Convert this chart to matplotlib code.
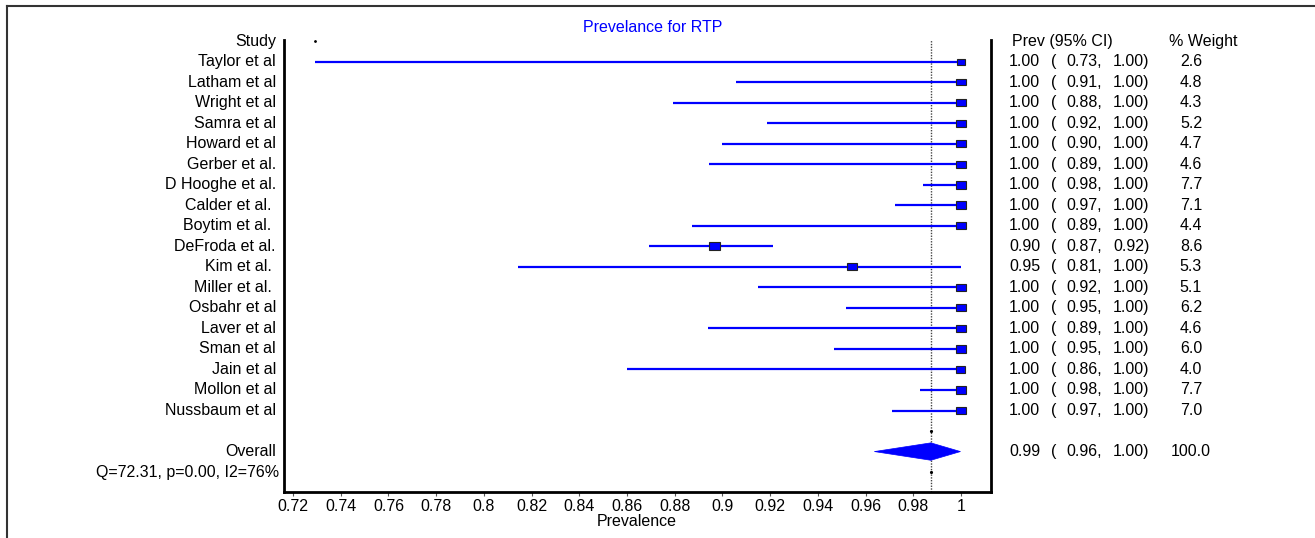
import numpy as np
import matplotlib.pyplot as plt
from matplotlib.patches import Rectangle, Polygon
from matplotlib.lines import Line2D
from matplotlib.transforms import blended_transform_factory

plt.rcParams['font.family'] = ['Liberation Sans', 'DejaVu Sans']

studies = ['Taylor et al', 'Latham et al', 'Wright et al', 'Samra et al', 'Howard et al',
           'Gerber et al.', 'D Hooghe et al.', 'Calder et al. ', 'Boytim et al. ', 'DeFroda et al.',
           'Kim et al. ', 'Miller et al. ', 'Osbahr et al', 'Laver et al', 'Sman et al',
           'Jain et al', 'Mollon et al', 'Nussbaum et al']
# estimate and CI
est = [1.0, 1.0, 1.0, 1.0, 1.0, 1.0, 1.0, 1.0, 1.0, 0.8966,
       0.9543, 1.0, 1.0, 1.0, 1.0, 1.0, 1.0, 1.0]
lo = [0.7294, 0.9058, 0.8794, 0.9189, 0.9000, 0.8945, 0.9840, 0.9722, 0.8874, 0.8693,
      0.8142, 0.9151, 0.9517, 0.8941, 0.9466, 0.8600, 0.9827, 0.9710]
hi = [1.0, 1.0, 1.0, 1.0, 1.0, 1.0, 1.0, 1.0, 1.0, 0.9214,
      1.0, 1.0, 1.0, 1.0, 1.0, 1.0, 1.0, 1.0]
weight = [2.6, 4.8, 4.3, 5.2, 4.7, 4.6, 7.7, 7.1, 4.4, 8.6,
          5.3, 5.1, 6.2, 4.6, 6.0, 4.0, 7.7, 7.0]
# printed columns
prev_txt = ['1.00', '1.00', '1.00', '1.00', '1.00', '1.00', '1.00', '1.00', '1.00', '0.90',
            '0.95', '1.00', '1.00', '1.00', '1.00', '1.00', '1.00', '1.00']
lo_txt = ['0.73', '0.91', '0.88', '0.92', '0.90', '0.89', '0.98', '0.97', '0.89', '0.87',
          '0.81', '0.92', '0.95', '0.89', '0.95', '0.86', '0.98', '0.97']
hi_txt = ['1.00', '1.00', '1.00', '1.00', '1.00', '1.00', '1.00', '1.00', '1.00', '0.92',
          '1.00', '1.00', '1.00', '1.00', '1.00', '1.00', '1.00', '1.00']
wt_txt = ['2.6', '4.8', '4.3', '5.2', '4.7', '4.6', '7.7', '7.1', '4.4', '8.6',
          '5.3', '5.1', '6.2', '4.6', '6.0', '4.0', '7.7', '7.0']

overall_est = 0.9874
overall_lo = 0.9637
overall_hi = 0.9998
overall_txt = ['0.99', '0.96', '1.00', '100.0']
het_txt = 'Q=72.31, p=0.00, I2=76%'

W, H = 1315, 538
fig = plt.figure(figsize=(W / 100, H / 100), dpi=100)
ax = fig.add_axes([284 / W, 1 - 492 / H, (991 - 284) / W, (492 - 40) / H])

blue = '#0000ff'
fs = 11.5
nrow = len(studies)
rows = np.arange(1, nrow + 1)
overall_row = nrow + 2
q_row = nrow + 3

px_x = 0.02 / 47.6      # data units per pixel in x
px_y = 1 / 20.52        # rows per pixel in y

for i in range(nrow):
    y = rows[i]
    ax.plot([lo[i], hi[i]], [y, y], color=blue, lw=1.6, zorder=2, solid_capstyle='butt')
    wpx = 5 + 2 * np.sqrt(weight[i])
    hpx = 3.5 + 1.5 * np.sqrt(weight[i])
    ax.add_patch(Rectangle((est[i] - wpx * px_x / 2, y - hpx * px_y / 2), wpx * px_x, hpx * px_y,
                           facecolor=blue, edgecolor='#222222', lw=0.8, zorder=3))

dh = 8.7 * px_y
ax.add_patch(Polygon([(overall_lo, overall_row), (overall_est, overall_row - dh),
                      (overall_hi, overall_row), (overall_est, overall_row + dh)],
                     closed=True, facecolor=blue, edgecolor=blue, lw=0.5, zorder=3))

ax.axvline(overall_est, color='#444444', lw=1.0, ls=(0, (1, 1)), zorder=1)
ax.plot([overall_est, overall_est], [nrow + 1, q_row], 'k.', ms=2.5, zorder=2)
ax.plot([lo[0]], [0], 'k.', ms=2, zorder=2)

ax.set_xlim(0.7162, 1.0126)
ax.set_ylim(q_row + 0.97, -0.05)
ticks = np.arange(0.72, 1.001, 0.02)
ax.set_xticks(ticks)
ax.set_xticklabels(['%g' % round(t, 2) for t in ticks], fontsize=fs)
ax.tick_params(axis='x', length=3, width=0.8, pad=2, color='#555555')
ax.set_yticks([])
ax.spines['top'].set_visible(False)
for s in ['left', 'right', 'bottom']:
    ax.spines[s].set_linewidth(2)
fig.text(637 / W, 1 - 521 / H, 'Prevalence', ha='center', va='center', fontsize=fs)

tr = blended_transform_factory(fig.transFigure, ax.transData)
def fx(p):
    return p / W

ax.text(fx(276), 0, 'Study', transform=tr, ha='right', va='center', fontsize=fs)
ax.text(fx(1012), 0, 'Prev (95% CI)', transform=tr, ha='left', va='center', fontsize=fs)
ax.text(fx(1203), 0, '% Weight', transform=tr, ha='center', va='center', fontsize=fs)
for i in range(nrow):
    y = rows[i]
    ax.text(fx(276), y, studies[i], transform=tr, ha='right', va='center', fontsize=fs)
    ax.text(fx(1009), y, prev_txt[i], transform=tr, ha='left', va='center', fontsize=fs)
    ax.text(fx(1051), y, '(', transform=tr, ha='left', va='center', fontsize=fs)
    ax.text(fx(1066), y, lo_txt[i] + ',', transform=tr, ha='left', va='center', fontsize=fs)
    ax.text(fx(1113), y, hi_txt[i] + ')', transform=tr, ha='left', va='center', fontsize=fs)
    ax.text(fx(1191), y, wt_txt[i], transform=tr, ha='center', va='center', fontsize=fs)

ax.text(fx(276), overall_row, 'Overall', transform=tr, ha='right', va='center', fontsize=fs)
ax.text(fx(1009), overall_row, overall_txt[0], transform=tr, ha='left', va='center', fontsize=fs)
ax.text(fx(1051), overall_row, '(', transform=tr, ha='left', va='center', fontsize=fs)
ax.text(fx(1066), overall_row, overall_txt[1] + ',', transform=tr, ha='left', va='center', fontsize=fs)
ax.text(fx(1113), overall_row, overall_txt[2] + ')', transform=tr, ha='left', va='center', fontsize=fs)
ax.text(fx(1191), overall_row, overall_txt[3], transform=tr, ha='center', va='center', fontsize=fs)
ax.text(fx(279), q_row, het_txt, transform=tr, ha='right', va='center', fontsize=fs)

fig.text(653 / W, 1 - 27 / H, 'Prevelance for RTP', color=blue, ha='center', va='center', fontsize=fs)

# outer frame (top and left edges only)
fig.add_artist(Line2D([7 / W, 1.0], [1 - 6 / H, 1 - 6 / H], color='#333333', lw=1.5))
fig.add_artist(Line2D([7 / W, 7 / W], [0.0, 1 - 6 / H], color='#333333', lw=1.5))

fig.savefig('out.png', dpi=100)
